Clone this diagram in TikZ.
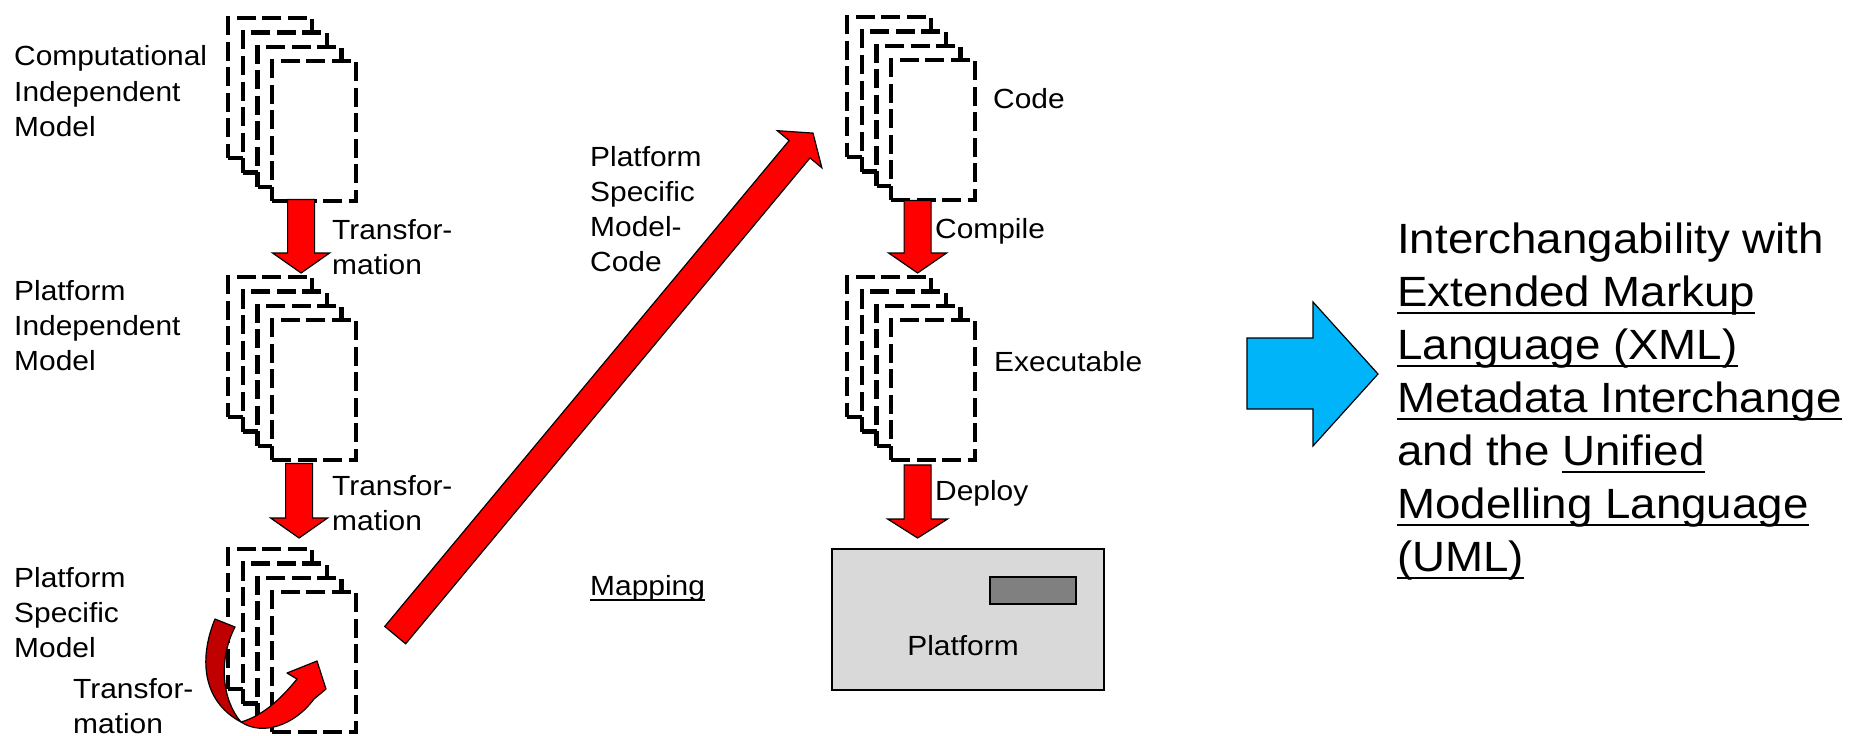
\documentclass[tikz,border=0pt]{standalone}
\usepackage{fontspec}
\setmainfont{Liberation Sans}[FakeStretch=1.08]
\usetikzlibrary{calc}

\definecolor{arrowred}{RGB}{255,0,0}
\definecolor{arrowdark}{RGB}{192,0,0}
\definecolor{arrowblue}{RGB}{0,180,250}
\definecolor{boxgray}{RGB}{217,217,217}
\definecolor{slotgray}{RGB}{128,128,128}

\newcommand\lblfont{\fontsize{27.7bp}{35bp}\selectfont}
\newcommand\bigfont{\fontsize{42.3bp}{53bp}\selectfont}
% underline at a fixed depth below the baseline
\newcommand\ulin[1]{\setbox0=\hbox{#1}\rlap{\rule[-0.2em]{\wd0}{0.065em}}\box0}

\tikzset{
  page/.style={draw=black, line width=4.2bp, dash pattern=on 19bp off 6.5bp,
    fill=white, inner sep=0pt, minimum width=84bp, minimum height=140bp,
    anchor=north west},
  redarrow/.style={draw=black, line width=1.2bp, fill=arrowred, line join=miter},
  % multi-line labels are placed by the baseline of their last line
  lbl/.style={inner sep=0pt, anchor=base west, align=left, font=\lblfont},
}

% stack of four documents, back sheet at (#2,#3)
\newcommand\pagestack[3]{%
  \foreach \k in {1,...,4}{
    \node[page] (#1\k) at ({#2+(\k-1)*14.7},{#3+(\k-1)*14.4}) {};
  }%
}

% block arrow: shaft start #1, tip #2, shaft half width #3, head half width #4, head length #5
\newcommand\blockarrow[5]{%
  \path ($(#2)!#5!(#1)$) coordinate (ba-base);
  \draw[redarrow] ($(#1)!#3!90:(#2)$) -- ($(ba-base)!#3!90:(#2)$)
    -- ($(ba-base)!#4!90:(#2)$) -- (#2) -- ($(ba-base)!#4!-90:(#2)$)
    -- ($(ba-base)!#3!-90:(#2)$) -- ($(#1)!#3!-90:(#2)$) -- cycle;
}

\begin{document}
\begin{tikzpicture}[x=1bp, y=-1bp]
\useasboundingbox (0,0) rectangle (1854,736);

% document stacks
\pagestack{cim}{226}{16}
\pagestack{pim}{226}{275}
\pagestack{psm}{226}{547}
\pagestack{code}{845}{15}
\pagestack{exe}{845}{275}

% target platform
\node[draw=black, line width=1.5bp, fill=boxgray, minimum width=272bp,
  minimum height=141bp, inner sep=0pt, anchor=north west] (platform) at (831,548) {};
\node[draw=black, line width=1.5bp, fill=slotgray, minimum width=86bp,
  minimum height=27bp, inner sep=0pt, anchor=north west] (slot) at (989,576) {};
\node[lbl, anchor=base] (platlbl) at (963,655) {Platform};

% labels
\node[lbl] (cimlbl) at (14,136) {Computational\\Independent\\Model};
\node[lbl] (pimlbl) at (14,370) {Platform\\Independent\\Model};
\node[lbl] (psmlbl) at (14,657) {Platform\\Specific\\Model};
\node[lbl] (tr1) at (332,274) {Transfor-\\mation};
\node[lbl] (tr2) at (332,530) {Transfor-\\mation};
\node[lbl] (tr3) at (73,733) {Transfor-\\mation};
\node[lbl] (psmc) at (590,271) {Platform\\Specific\\Model-\\Code};
\node[lbl] (mapping) at (590,595) {\ulin{Mapping}};
\node[lbl] (codelbl) at (993,108) {Code};
\node[lbl] (compile) at (935,238) {Compile};
\node[lbl] (exelbl) at (994,371) {Executable};
\node[lbl] (deploy) at (935,500) {Deploy};

% vertical transformation arrows
\coordinate (t1) at ($(pim1.north)+(31,-2)$);
\coordinate (s1) at ($(t1 |- cim4.south)+(0,-4)$);
\blockarrow{s1}{t1}{13.5bp}{28.5bp}{20bp}
\coordinate (t2) at ($(psm1.north)+(29,-9)$);
\coordinate (s2) at ($(t2 |- pim4.south)+(0,1)$);
\blockarrow{s2}{t2}{13.5bp}{28.5bp}{20bp}
\coordinate (t3) at ($(exe1.north)+(28.5,-2)$);
\coordinate (s3) at ($(t3 |- code4.south)+(0,-2)$);
\blockarrow{s3}{t3}{13.5bp}{29bp}{20bp}
\coordinate (t4) at ($(t3 |- platform.north)+(0,-10)$);
\coordinate (s4) at ($(t4 |- exe4.south)+(0,2.5)$);
\blockarrow{s4}{t4}{13.5bp}{30bp}{19bp}

% mapping arrow from the PSM stack to the code stack
\coordinate (m1) at ($(psm4.east)+(36.9,-27.2)$);
\coordinate (m2) at ($(code1.west)+(-32,46)$);
\blockarrow{m1}{m2}{13.6bp}{29bp}{21bp}

% in-place transformation of the PSM (twisted ribbon arrow)
\draw[redarrow, fill=arrowdark, line join=round]
  (215,619) .. controls (200,655) and (200,700) .. (241,722)
  .. controls (222,700) and (218,660) .. (235,627) -- cycle;
\draw[redarrow, line join=round]
  (241,722) .. controls (262,736) and (294,726) .. (314,699)
  -- (326,689) -- (317,661) -- (287,673) -- (297,679)
  .. controls (280,700) and (262,716) .. (241,722) -- cycle;

% result arrow
\draw[draw=black, line width=1.2bp, fill=arrowblue]
  (1247,338) -- (1313,338) -- (1313,302) -- (1378,374) -- (1313,446)
  -- (1313,409) -- (1247,409) -- cycle;

\node[inner sep=0pt, anchor=base west, align=left, font=\bigfont] (xmi) at (1397,571)
  {Interchangability with\\\ulin{Extended Markup}\\\ulin{Language (XML)}\\
   \ulin{Metadata Interchange}\\and the \ulin{Unified}\\\ulin{Modelling Language}\\
   \ulin{(UML)}};
\end{tikzpicture}
\end{document}
